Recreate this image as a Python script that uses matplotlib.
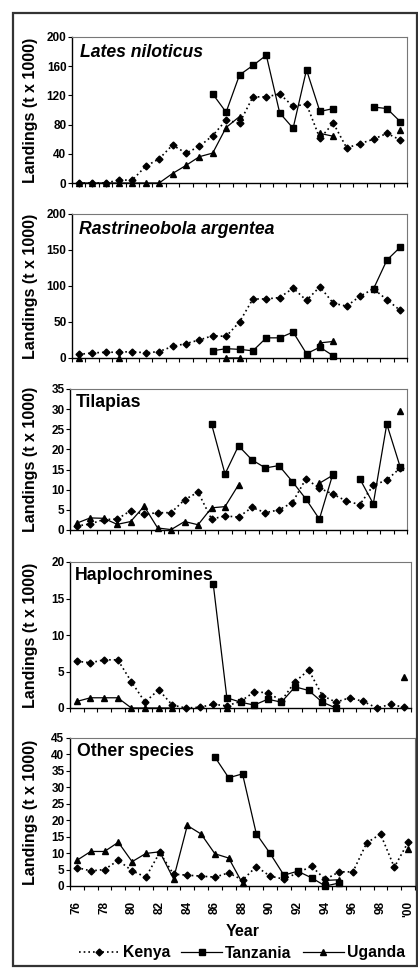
import numpy as np
import matplotlib.pyplot as plt
from matplotlib.lines import Line2D
from matplotlib.patches import Rectangle

plt.rcParams['font.family'] = ['Liberation Sans', 'DejaVu Sans']
plt.rcParams['font.weight'] = 'bold'

nan = np.nan

# Years 1976 - 2000
years = list(range(1976, 2001))
tick_labels = ['76', '78', '80', '82', '84', '86', '88', '90', '92', '94', '96', '98', "'00"]

# Lates niloticus
lates_kenya = [0, 0, 0, 4, 4, 23, 33, 52, 41, 50, 65, 86, 82, 118, 118, 122, 105, 108, 61, 82, 48, 54, 60, 68, 59]
lates_tanzania = [nan]*10 + [122, 97, 148, 161, 175, 96, 75, 155, 98, 102, nan, nan, 104, 102, 84]
lates_uganda = [0, 0, 0, 0, 0, 0, 0, 13, 24, 36, 41, 76, 91, nan, nan, nan, nan, nan, 68, 64, nan, nan, nan, nan, 72]

# Rastrineobola argentea
rastri_kenya = [5, 7, 8, 8, 9, 7, 9, 16, 20, 25, 31, 30, 50, 82, 82, 84, 97, 80, 99, 76, 72, 86, 96, 81, 66]
rastri_tanzania = [nan]*10 + [10, 13, 12, 10, 28, 28, 36, 6, 15, 3, nan, nan, 96, 136, 154]
rastri_uganda = [0, nan, nan, 0, nan, nan, nan, nan, nan, nan, nan, 0, 0, nan, nan, nan, nan, nan, 21, 23, nan, nan, nan, nan, nan]

# Tilapias
tilapia_kenya = [1.0, 1.5, 2.6, 2.7, 4.8, 3.9, 4.3, 4.3, 7.5, 9.4, 2.7, 3.5, 3.2, 5.6, 4.3, 5.0, 6.8, 12.7, 10.4, 8.9, 7.2, 6.3, 11.1, 12.4, 15.4]
tilapia_tanzania = [nan]*10 + [26.3, 13.9, 20.9, 17.4, 15.4, 16.0, 12.0, 7.7, 2.7, 13.9, nan, 12.7, 6.5, 26.3, 15.6]
tilapia_uganda = [1.7, 3.0, 2.9, 1.4, 2.1, 5.9, 0.5, 0.1, 2.1, 1.3, 5.5, 5.8, 11.2, nan, nan, nan, nan, nan, 11.6, 13.6, nan, nan, nan, nan, 29.5]

# Haplochromines
haplo_kenya = [6.4, 6.2, 6.6, 6.6, 3.6, 0.8, 2.5, 0.4, 0.0, 0.1, 0.5, 0.3, 0.9, 2.2, 2.1, 1.0, 3.6, 5.2, 1.7, 0.8, 1.4, 0.9, 0.0, 0.5, 0.1]
haplo_tanzania = [nan]*10 + [17.0, 1.4, 0.8, 0.4, 1.2, 0.8, 2.9, 2.4, 0.8, 0.0, nan, nan, nan, nan, nan]
haplo_uganda = [0.9, 1.4, 1.4, 1.4, 0, 0, 0, 0, nan, nan, nan, 0, nan, nan, nan, nan, nan, nan, nan, nan, nan, nan, nan, nan, 4.2]

# Other species
other_kenya = [5.6, 4.6, 5.0, 7.8, 4.6, 2.7, 10.2, 3.6, 3.3, 3.0, 2.7, 4.0, 1.8, 5.9, 3.0, 2.1, 4.0, 6.0, 2.0, 4.3, 4.3, 13.1, 15.8, 5.7, 13.3]
other_tanzania = [nan]*10 + [39.2, 32.9, 34.1, 15.9, 9.9, 3.3, 4.5, 2.5, 0.0, 0.9, nan, nan, nan, nan, nan]
other_uganda = [7.8, 10.5, 10.5, 13.3, 7.4, 9.9, 10.4, 2.2, 18.4, 15.8, 9.8, 8.5, 0.8, nan, nan, nan, nan, nan, 1.7, 1.9, nan, nan, nan, nan, 11.2]

panels = [
    ("Lates niloticus", 'italic', lates_kenya, lates_tanzania, lates_uganda, 200, 40),
    ("Rastrineobola argentea", 'italic', rastri_kenya, rastri_tanzania, rastri_uganda, 200, 50),
    ("Tilapias", 'normal', tilapia_kenya, tilapia_tanzania, tilapia_uganda, 35, 5),
    ("Haplochromines", 'normal', haplo_kenya, haplo_tanzania, haplo_uganda, 20, 5),
    ("Other species", 'normal', other_kenya, other_tanzania, other_uganda, 45, 5),
]

# axes boxes in pixels: left, right, top, bottom
boxes = [
    (72, 407, 37, 183),
    (72, 407, 214, 358),
    (70, 407, 389, 530),
    (70, 411, 562, 708),
    (70, 415, 738, 886),
]
title_pos = [(80, 53), (79, 230), (76, 403), (75, 576), (77, 752)]

W, H = 418, 969
fig = plt.figure(figsize=(W / 100, H / 100), dpi=100)

# outer frame
fig.patches.append(Rectangle((13 / W, 3 / H), (W - 14) / W, (H - 16) / H,
                             transform=fig.transFigure, fill=False,
                             edgecolor='#333333', linewidth=1.6))

x = np.arange(len(years))

for i, (name, style, kenya, tanz, ugan, ymax, ystep) in enumerate(panels):
    l, r, t, b = boxes[i]
    ax = fig.add_axes([l / W, 1 - b / H, (r - l) / W, (b - t) / H])
    ax.plot(x, kenya, color='black', linestyle=(0, (1, 1.8)), linewidth=1.2,
            marker='D', markersize=3.5, zorder=3, clip_on=False)
    ax.plot(x, tanz, color='black', linestyle='-', linewidth=0.9,
            marker='s', markersize=5, zorder=4, clip_on=False)
    ax.plot(x, ugan, color='black', linestyle='-', linewidth=0.9,
            marker='^', markersize=4.5, zorder=5, clip_on=False)

    ax.set_xlim(-0.5, len(years) - 0.5)
    ax.set_ylim(0, ymax)
    ax.set_yticks(np.arange(0, ymax + 1, ystep))
    ax.tick_params(axis='y', direction='out', length=3, width=0.8, labelsize=8.5, pad=1)
    for lab in ax.get_yticklabels():
        lab.set_fontweight('bold')

    ax.set_xticks(np.arange(-0.5, len(years), 1), minor=True)
    ax.tick_params(axis='x', which='minor', direction='out', length=3, width=0.8)
    if i == len(panels) - 1:
        ax.set_xticks(x[::2], tick_labels)
        ax.tick_params(axis='x', which='major', length=0, labelsize=8.5, labelrotation=90, pad=11)
        for lab in ax.get_xticklabels():
            lab.set_fontweight('bold')
        ax.set_xlabel("Year", fontsize=11.5, fontweight='bold', labelpad=5)
    else:
        ax.set_xticks([])

    for s in ['left', 'bottom']:
        ax.spines[s].set_color('black')
        ax.spines[s].set_linewidth(1.0)
    for s in ['top', 'right']:
        ax.spines[s].set_color('#777777')
        ax.spines[s].set_linewidth(0.8)

    ax.set_ylabel("Landings (t x 1000)", fontsize=11.5, fontweight='bold')
    ax.yaxis.set_label_coords((38 - l) / (r - l), 0.5)

    tx, ty = title_pos[i]
    ax.text((tx - l) / (r - l), (b - ty) / (b - t), name, transform=ax.transAxes,
            fontsize=12.7, fontweight='bold', fontstyle=style, va='center', ha='left')

handles = [
    Line2D([], [], color='black', linestyle=(0, (1, 1.8)), linewidth=1.2, marker='D', markersize=3.5),
    Line2D([], [], color='black', linestyle='-', linewidth=0.9, marker='s', markersize=5),
    Line2D([], [], color='black', linestyle='-', linewidth=0.9, marker='^', markersize=4.5),
]
fig.legend(handles, ["Kenya", "Tanzania", "Uganda"], loc='center',
           bbox_to_anchor=(242 / W, 1 - 953 / H), ncol=3, frameon=False,
           handlelength=2.6, handletextpad=0.2, columnspacing=0.7,
           prop={'weight': 'bold', 'size': 11.3})

fig.savefig("out.png", dpi=100)
